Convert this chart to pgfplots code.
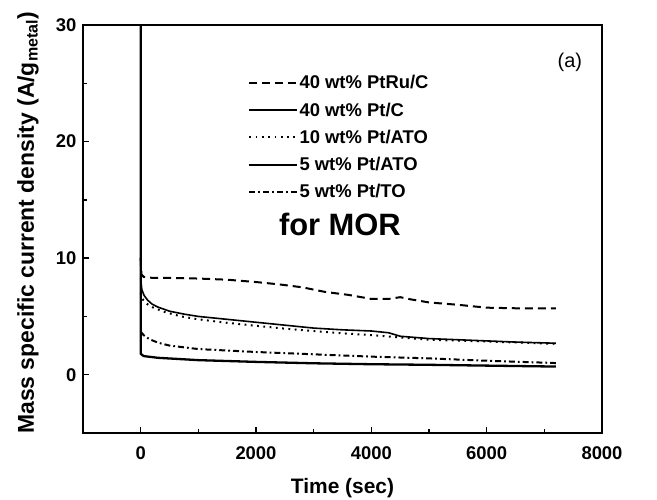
\documentclass[border=0pt]{standalone}
\usepackage{fontspec}
\setmainfont{Liberation Sans}
\usepackage{pgfplots}
\pgfplotsset{compat=1.18}
\begin{document}
\begin{tikzpicture}[x=1bp,y=1bp]
\begin{axis}[
  at={(0bp,0bp)}, anchor=south west,
  scale only axis, width=519bp, height=408bp,
  xmin=-1000, xmax=8000, ymin=-5, ymax=30,
  xtick={0,2000,4000,6000,8000}, ytick={0,10,20,30},
  minor tick num=1,
  tick pos=left, tick align=inside,
  major tick length=6bp, minor tick length=4bp,
  every tick/.style={black, line width=1.5bp},
  axis line style={line width=2bp},
  /pgf/number format/assume math mode=true,
  /pgf/number format/set thousands separator={},
  ticklabel style={font=\bfseries\fontsize{18.5}{20}\selectfont},
  xticklabel style={yshift=-10bp},
  yticklabel style={xshift=-3bp},
  xlabel={Time (sec)},
  ylabel={Mass specific current density (A/g\textsubscript{metal})},
  xlabel style={font=\bfseries\fontsize{21}{24}\selectfont, at={(axis description cs:0.5,-0.135)}, anchor=center},
  ylabel style={font=\bfseries\fontsize{23}{25}\selectfont, at={(axis description cs:-0.106,0.515)}, anchor=center},
  clip=true,
  legend style={draw=none, fill=none, at={(axis description cs:0.318,0.879)}, anchor=north west,
    font=\bfseries\fontsize{18.5}{20}\selectfont, inner sep=0pt, row sep=10.4bp,
    nodes={inner sep=1pt}},
  legend cell align=left,
  legend image code/.code={\draw[#1] (0bp,0bp) -- (48bp,0bp);},
]
\addplot[black, line width=2bp, dash pattern=on 8bp off 5bp] coordinates {
(0,10) (5,9.2) (15,8.6) (50,8.4) (150,8.32) (500,8.3) (1000,8.25) (1500,8.15) (2000,7.95) (2400,7.75) (2800,7.5) (3200,7.1) (3600,6.85) (4000,6.5) (4300,6.5) (4500,6.65) (4700,6.45) (5000,6.2) (5500,6.0) (6000,5.75) (6500,5.7) (7200,5.7)};
\addlegendentry{40 wt\% PtRu/C}
\addplot[black, line width=2.3bp] coordinates {
(0,31) (0,1.8) (50,1.6) (300,1.45) (1000,1.25) (2000,1.1) (3000,0.98) (4000,0.9) (5000,0.85) (6000,0.78) (7200,0.7)};
\addlegendentry{40 wt\% Pt/C}
\addplot[black, line width=2bp, dash pattern=on 1.8bp off 4.5bp] coordinates {
(0,7.0) (30,6.5) (100,6.1) (200,5.8) (400,5.4) (700,5.0) (1000,4.75) (1500,4.45) (2000,4.2) (2500,3.95) (3000,3.75) (3500,3.55) (4000,3.4) (4500,3.2) (5000,3.0) (6000,2.85) (7200,2.65)};
\addlegendentry{10 wt\% Pt/ATO}
\addplot[black, line width=1.6bp] coordinates {
(0,8.3) (20,7.3) (60,6.8) (120,6.4) (200,6.05) (300,5.8) (500,5.45) (750,5.2) (1000,5.0) (1500,4.75) (2000,4.5) (2500,4.25) (3000,4.0) (3500,3.85) (4000,3.75) (4300,3.6) (4500,3.3) (5000,3.1) (5500,3.0) (6000,2.9) (6500,2.8) (7200,2.7)};
\addlegendentry{5 wt\% Pt/ATO}
\addplot[black, line width=2bp, dash pattern=on 6bp off 3bp on 1.8bp off 3bp] coordinates {
(0,3.7) (50,3.4) (150,3.05) (300,2.75) (500,2.5) (1000,2.2) (2000,1.95) (3000,1.75) (4000,1.55) (5000,1.4) (6000,1.2) (7200,1.0)};
\addlegendentry{5 wt\% Pt/TO}
\node[font=\bfseries\fontsize{31}{34}\selectfont, anchor=center] at (axis description cs:0.495,0.51) {for MOR};
\node[font=\fontsize{20}{22}\selectfont, anchor=center] at (axis description cs:0.938,0.909) {(a)};
\end{axis}
\pgfresetboundingbox
\path[use as bounding box] (-83bp,-67bp) rectangle (574bp,433bp);
\end{tikzpicture}
\end{document}
